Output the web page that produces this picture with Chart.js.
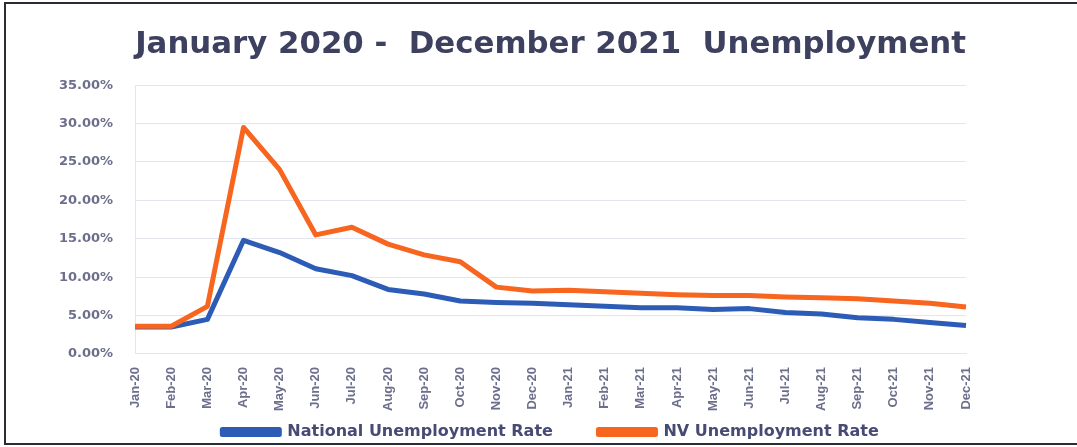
<!DOCTYPE html>
<html>
<head>
<meta charset="utf-8">
<script src="https://cdn.jsdelivr.net/npm/chart.js@4/dist/chart.umd.min.js"></script>
<style>
    html, body {
        margin: 0;
        padding: 0;
        background: #ffffff;
    }
    #frame {
        position: absolute;
        left: 4px;
        top: 2px;
        width: 1075px;
        height: 443px;
        box-sizing: border-box;
        border: 2px solid #2b2b36;
        background: #ffffff;
    }
</style>
</head>
<body>
<div id="frame"><canvas id="chart"></canvas></div>
<script>
const MONTHS = ["Jan-20", "Feb-20", "Mar-20", "Apr-20", "May-20", "Jun-20", "Jul-20", "Aug-20",
    "Sep-20", "Oct-20", "Nov-20", "Dec-20", "Jan-21", "Feb-21", "Mar-21", "Apr-21",
    "May-21", "Jun-21", "Jul-21", "Aug-21", "Sep-21", "Oct-21", "Nov-21", "Dec-21"];

const NATIONAL_RATE = [3.5, 3.5, 4.5, 14.8, 13.2, 11.1, 10.2, 8.4, 7.8, 6.9, 6.7, 6.6,
    6.4, 6.2, 6.0, 6.0, 5.8, 5.9, 5.4, 5.2, 4.7, 4.5, 4.1, 3.7];

const NV_RATE = [3.6, 3.6, 6.2, 29.5, 24.0, 15.5, 16.5, 14.3, 12.9, 12.0, 8.7, 8.2,
    8.3, 8.1, 7.9, 7.7, 7.6, 7.6, 7.4, 7.3, 7.2, 6.9, 6.6, 6.1];

const Y_TICKS = [0, 5, 10, 15, 20, 25, 30, 35];

const TITLE_TEXT = "January 2020 -  December 2021  Unemployment",
    LABEL_NATIONAL = "National Unemployment Rate",
    LABEL_NV = "NV Unemployment Rate";

const BLUE = "#2d5cb6",
    ORANGE = "#f7651f",
    TITLE_COLOR = "#3d405e",
    TICK_COLOR = "#6c6f8c",
    LEGEND_COLOR = "#474b74",
    GRID_COLOR = "#e3e5f0";

// extra room after the first legend entry, like the gap in the original
const LEGEND_GAP = "\u2003\u2003 ";

function lineDataset(label, data, color, order) {
    return {
        label: label,
        data: data,
        borderColor: color,
        backgroundColor: color,
        borderWidth: 5,
        pointRadius: 0,
        tension: 0,
        borderJoinStyle: "round",
        order: order,
    };
}

function legendLabels(chart) {
    const items = Chart.defaults.plugins.legend.labels.generateLabels(chart);
    items.sort((a, b) => a.datasetIndex - b.datasetIndex);
    items[0].text += LEGEND_GAP;
    return items;
}

new Chart(document.getElementById("chart"), {
    type: "line",
    data: {
        labels: MONTHS,
        datasets: [
            lineDataset(LABEL_NATIONAL, NATIONAL_RATE, BLUE, 1),
            lineDataset(LABEL_NV, NV_RATE, ORANGE, 0),
        ],
    },
    options: {
        responsive: true,
        maintainAspectRatio: false,
        animation: false,
        layout: {
            padding: { left: 31, right: 111, top: 8, bottom: -7 },
        },
        plugins: {
            title: {
                display: true,
                text: TITLE_TEXT,
                fullSize: false,
                color: TITLE_COLOR,
                font: { family: "'DejaVu Sans', sans-serif", size: 31, weight: "bold" },
                padding: { top: 14, bottom: 22 },
            },
            legend: {
                position: "bottom",
                fullSize: false,
                labels: {
                    color: LEGEND_COLOR,
                    font: { family: "'DejaVu Sans', sans-serif", size: 16, weight: "bold" },
                    boxWidth: 57,
                    boxHeight: 5,
                    padding: 8,
                    generateLabels: legendLabels,
                },
            },
            tooltip: { enabled: false },
        },
        scales: {
            x: {
                offset: false,
                grid: { display: false },
                border: { display: true, color: GRID_COLOR },
                ticks: {
                    color: TICK_COLOR,
                    font: { family: "'Liberation Sans', sans-serif", size: 13, weight: "bold" },
                    minRotation: 90,
                    maxRotation: 90,
                    autoSkip: false,
                    padding: 5,
                },
            },
            y: {
                min: 0,
                max: 35,
                afterBuildTicks: (axis) => {
                    axis.ticks = Y_TICKS.map((v) => ({ value: v }));
                },
                grid: { color: GRID_COLOR, drawTicks: false },
                border: { display: true, color: GRID_COLOR },
                ticks: {
                    color: TICK_COLOR,
                    font: { family: "'DejaVu Sans', sans-serif", size: 13, weight: "bold" },
                    padding: 22,
                    callback: (value) => value.toFixed(2) + "%",
                },
            },
        },
    },
});
</script>
</body>
</html>
